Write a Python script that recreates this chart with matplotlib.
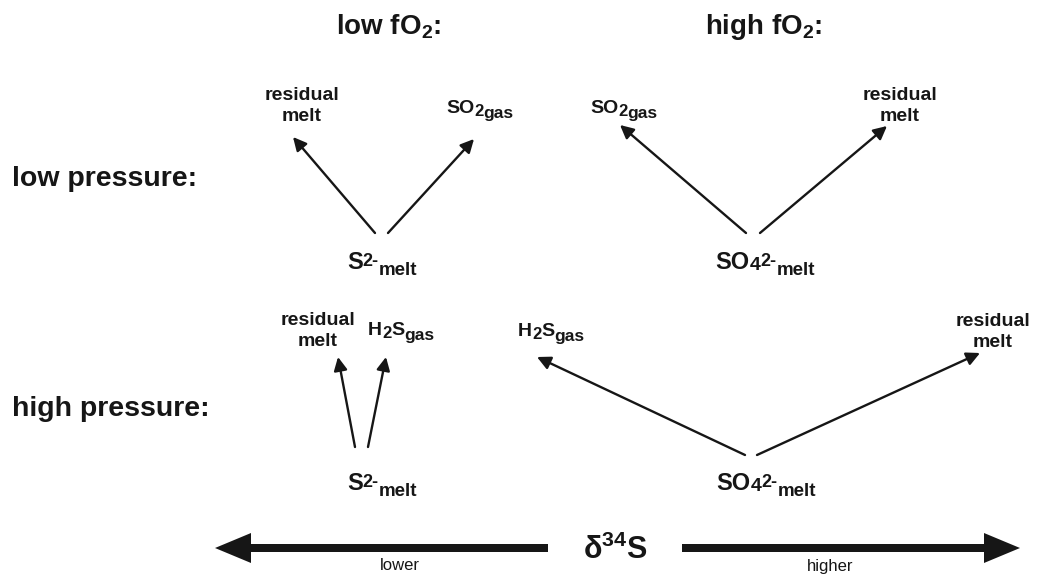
import matplotlib.pyplot as plt
from matplotlib import font_manager

# 字体：尽量接近原图的粗体无衬线
names = {f.name for f in font_manager.fontManager.ttflist}
narrow = "Liberation Sans Narrow" if "Liberation Sans Narrow" in names else "Liberation Sans"

plt.rcParams["font.family"] = ["Liberation Sans", "DejaVu Sans"]
plt.rcParams["mathtext.fontset"] = "custom"
plt.rcParams["mathtext.rm"] = "Liberation Sans:bold"
plt.rcParams["mathtext.it"] = "Liberation Sans:bold"
plt.rcParams["mathtext.bf"] = "Liberation Sans:bold"

INK = "#161616"

# =========================
# 数据：标签 和 箭头 (起点 -> 终点, 像素坐标)
# =========================
column_titles = ["low fO$_2$:", "high fO$_2$:"]
column_x = [389, 764]
row_titles = ["low pressure:", "high pressure:"]
row_y = [179, 409]

# 化学式分段：(文字, 字号, 纵向偏移)
S_MELT = [("S", 17, 0), ("2-", 13, -3), ("melt", 13.5, 6)]
SO4_MELT = [("SO", 17, 0), ("4", 14, 1), ("2-", 13, -3), ("melt", 13.5, 6)]
SO2_GAS = [("SO", 14, 0), ("2", 12, 3), ("gas", 12.5, 5)]
H2S_GAS = [("H", 14, 0), ("2", 12, 3), ("S", 14, 0), ("gas", 12.5, 5)]

source_labels = [S_MELT, SO4_MELT, S_MELT, SO4_MELT]
source_xy = [(382, 269), (765, 269), (382, 490), (766, 490)]

gas_labels = [SO2_GAS, SO2_GAS, H2S_GAS, H2S_GAS]
gas_xy = [(446, 113), (590, 113), (368, 335), (518, 336)]

melt_label = "residual\nmelt"
melt_xy = [(302, 106), (900, 106), (318, 331), (993, 332)]

arrow_start = [(375, 233), (388, 233), (746, 233), (760, 233),
               (355, 447), (368, 447), (745, 455), (757, 455)]
arrow_end = [(293, 137), (474, 139), (620, 125), (887, 126),
             (338, 357), (386, 357), (537, 357), (980, 353)]

scale_label = "δ$^{34}$S"
scale_ends = ["lower", "higher"]

# =========================
# 画图
# =========================
fig = plt.figure(figsize=(10.39, 5.76), dpi=100)
ax = fig.add_axes([0, 0, 1, 1])
ax.set_xlim(0, 1039)
ax.set_ylim(576, 0)
ax.axis("off")
renderer = fig.canvas.get_renderer()


def chunk_text(x, y, parts, ha="left"):
    # 逐段放置文字（坐标单位即像素），实现上下标
    texts = []
    for s, size, dy in parts:
        t = ax.text(0, y + dy, s, ha="left", va="baseline", fontsize=size,
                    fontweight="bold", color=INK)
        texts.append(t)
    widths = [t.get_window_extent(renderer).width for t in texts]
    total = sum(widths)
    cur = x - total / 2 if ha == "center" else x
    for t, w in zip(texts, widths):
        t.set_x(cur)
        cur += w


for label, x in zip(column_titles, column_x):
    ax.text(x, 27, label, ha="center", va="center", fontsize=20,
            fontweight="bold", family=narrow, color=INK)

for label, y in zip(row_titles, row_y):
    ax.text(12, y, label, ha="left", va="center", fontsize=20.5,
            fontweight="bold", color=INK)

for parts, (x, y) in zip(source_labels, source_xy):
    chunk_text(x, y, parts, ha="center")

for parts, (x, y) in zip(gas_labels, gas_xy):
    chunk_text(x, y, parts, ha="left")

for x, y in melt_xy:
    ax.text(x, y, melt_label, ha="center", va="center", fontsize=14,
            fontweight="bold", color=INK, linespacing=1.35)

for (x0, y0), (x1, y1) in zip(arrow_start, arrow_end):
    ax.annotate("", xy=(x1, y1), xytext=(x0, y0),
                arrowprops=dict(arrowstyle="-|>", lw=1.7, color=INK,
                                mutation_scale=20, shrinkA=0, shrinkB=0))

# 底部 δ34S 粗箭头
ax.arrow(548, 548, 215 - 548, 0, width=8, head_width=30, head_length=36,
         length_includes_head=True, color=INK, lw=0)
ax.arrow(682, 548, 1020 - 682, 0, width=8, head_width=30, head_length=36,
         length_includes_head=True, color=INK, lw=0)
ax.text(615, 550, scale_label, ha="center", va="center", fontsize=22,
        fontweight="bold", color=INK)
ax.text(400, 566, scale_ends[0], ha="center", va="center", fontsize=12,
        family=narrow, color=INK)
ax.text(830, 566, scale_ends[1], ha="center", va="center", fontsize=12,
        family=narrow, color=INK)

fig.savefig("out.png", dpi=100, facecolor="white")
